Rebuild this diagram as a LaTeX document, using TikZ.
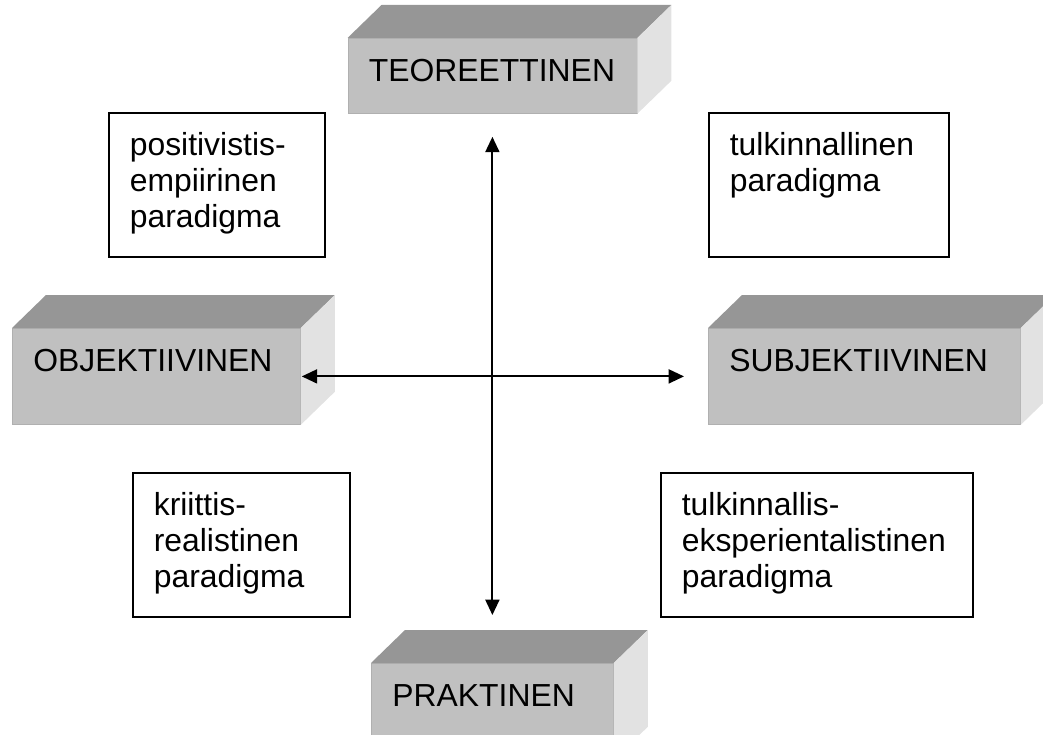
\documentclass[tikz,border=0pt]{standalone}
\usepackage{fontspec}
\setmainfont{Liberation Sans}
\usepackage{tikz}
\usetikzlibrary{calc, arrows.meta}
\definecolor{facegray}{RGB}{192,192,192}
\definecolor{topgray}{RGB}{150,150,150}
\definecolor{sidegray}{RGB}{226,226,226}
\definecolor{edgegray}{RGB}{176,176,176}
\newcommand{\boxfont}{\fontsize{23.9}{27}\selectfont}
\tikzstyle{face}  = [anchor=north west, fill=facegray, draw=edgegray, line width=0.6pt,
                     inner xsep=15.75pt, inner ysep=0pt, text height=32.25pt, align=left]
\tikzstyle{note}  = [anchor=north west, fill=white, draw, line width=1.3pt,
                     inner xsep=15.75pt, inner ysep=0pt, text height=32.25pt,
                     text depth=75.75pt, align=left]
\tikzstyle{arrow} = [line width=1.4pt, {Triangle[length=11.5pt,width=10.5pt]}-{Triangle[length=11.5pt,width=10.5pt]}]

\begin{document}
\begin{tikzpicture}[x=0.75pt, y=-0.75pt, font=\boxfont]
  \useasboundingbox (0,0) rectangle (1043,735);

  %the four blocks
  \node[face, text width=185.25pt, text depth=24pt]    (teo) at (347.5,38) {TEOREETTINEN};
  \node[face, text width=184.5pt,  text depth=39.75pt] (obj) at (12,328)   {OBJEKTIIVINEN};
  \node[face, text width=202.5pt,  text depth=39.75pt] (sub) at (708,328)  {SUBJEKTIIVINEN};
  \node[face, text width=150pt,    text depth=39.75pt] (pra) at (371,663)  {PRAKTINEN};

  %top and side of each block
  \foreach \n in {teo,obj,sub,pra}{
    \fill[topgray] (\n.north west) -- ++(34,-33) -- ([shift={(34,-33)}]\n.north east) -- (\n.north east) -- cycle;
    \fill[sidegray] (\n.north east) -- ++(34,-33) -- ([shift={(34,-33)}]\n.south east) -- (\n.south east) -- cycle;
  }

  %the paradigms
  \node[note, text width=130.5pt]  (pos) at (108,112) {positivistis-\\empiirinen\\paradigma};
  \node[note, text width=148.5pt]  (tul) at (708,112) {tulkinnallinen\\paradigma};
  \node[note, text width=131.25pt] (kri) at (132,472) {kriittis-\\realistinen\\paradigma};
  \node[note, text width=202.5pt]  (eks) at (660,472) {tulkinnallis-\\eksperientalistinen\\paradigma};

  \draw[arrow, shorten <=17.25pt, shorten >=36pt] (teo.south) -- (pra.north);
  \draw[arrow, shorten <=0.75pt, shorten >=18pt] (obj.east) -- (sub.west);
\end{tikzpicture}
\end{document}
